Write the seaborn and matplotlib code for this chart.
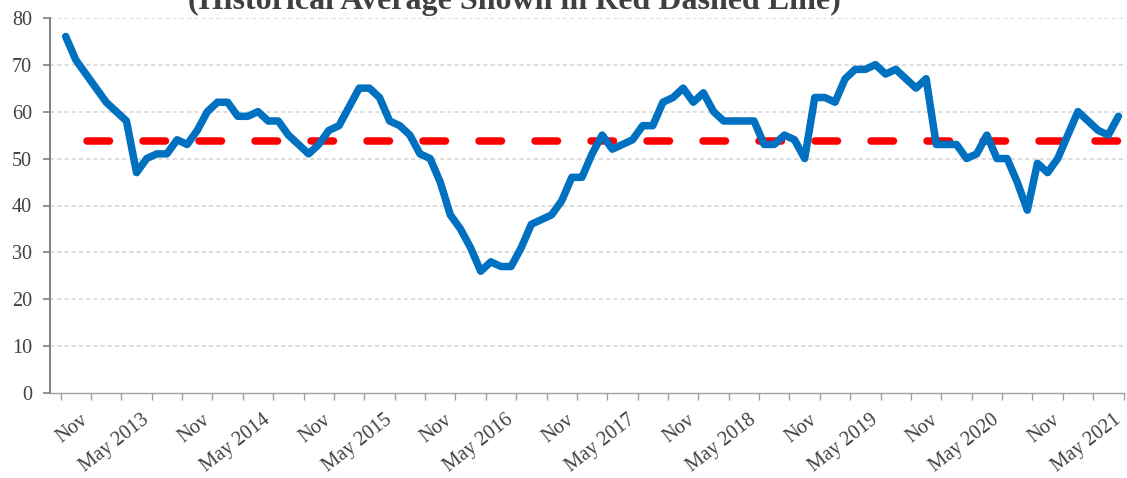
import numpy as np
import pandas as pd
import matplotlib
matplotlib.use("Agg")
import matplotlib.pyplot as plt
import matplotlib.transforms as mtransforms
import seaborn as sns

# Monthly index: Sep 2012 .. May 2021 (105 months)
month_index = list(range(105))
index_values = [
    76, 71, 68, 65, 62, 60, 58, 47, 50, 51,
    51, 54, 53, 56, 60, 62, 62, 59, 59, 60,
    58, 58, 55, 53, 51, 53, 56, 57, 61, 65,
    65, 63, 58, 57, 55, 51, 50, 45, 38, 35,
    31, 26, 28, 27, 27, 31, 36, 37, 38, 41,
    46, 46, 51, 55, 52, 53, 54, 57, 57, 62,
    63, 65, 62, 64, 60, 58, 58, 58, 58, 53,
    53, 55, 54, 50, 63, 63, 62, 67, 69, 69,
    70, 68, 69, 67, 65, 67, 53, 53, 53, 50,
    51, 55, 50, 50, 45, 39, 49, 47, 50, 55,
    60, 58, 56, 55, 59,
]
hist_avg = 53.7
avg_values = [hist_avg] * len(month_index)

x_labels = ["Nov", "May 2013", "Nov", "May 2014", "Nov", "May 2015",
            "Nov", "May 2016", "Nov", "May 2017", "Nov", "May 2018",
            "Nov", "May 2019", "Nov", "May 2020", "Nov", "May 2021"]
y_ticks = [0, 10, 20, 30, 40, 50, 60, 70, 80]
title_text = "(Historical Average Shown in Red Dashed Line)"

sns.set_theme(style="white")
plt.rcParams["font.family"] = ["Liberation Serif", "DejaVu Serif"]
plt.rcParams["lines.scale_dashes"] = False

df = pd.DataFrame({"month": month_index, "index": index_values, "avg": avg_values})

fig = plt.figure(figsize=(11.27, 4.78), dpi=100)
ax = fig.add_axes([50 / 1127, 1 - 393.3 / 478, (1123.5 - 50) / 1127, (393.3 - 17.7) / 478])

# grid
for yv in y_ticks[1:]:
    ax.axhline(yv, color="#D4D4D4", lw=1.1, ls=(0, (3, 2.2)), zorder=0)

px = 72 / 100  # points per pixel
lw_px = 7.5
sns.lineplot(data=df, x="month", y="avg", ax=ax, color="#FF0000", lw=lw_px * px,
             zorder=2, legend=False)
red = ax.lines[-1]
red.set_linestyle((35 * px, (22.5 * px, 33.5 * px)))
red.set_dash_capstyle("round")
sns.lineplot(data=df, x="month", y="index", ax=ax, color="#0070C0", lw=lw_px * px,
             zorder=3, legend=False)
blue = ax.lines[-1]
blue.set_solid_joinstyle("round")
blue.set_solid_capstyle("round")

ax.set_xlim(-1.55, 104.5)
ax.set_ylim(0, 80)
ax.set_xlabel("")
ax.set_ylabel("")

major = [2.5 + 6 * k for k in range(len(x_labels))]
minor = [-0.5 + 6 * k for k in range(18)]
ax.set_xticks(major)
ax.set_xticklabels(x_labels, rotation=38, ha="right", va="center",
                   rotation_mode="anchor", fontsize=14.5, color="#404040")
ax.set_xticks(minor, minor=True)
ax.tick_params(axis="x", which="both", direction="out", length=5, width=1,
               color="#A0A0A0", bottom=True, pad=13)
shift = mtransforms.ScaledTranslation(-5 / 100, 0, fig.dpi_scale_trans)
for lab in ax.get_xticklabels():
    lab.set_transform(lab.get_transform() + shift)
ax.set_yticks(y_ticks)
ax.set_yticklabels([str(v) for v in y_ticks], fontsize=14.5, color="#404040")
ax.tick_params(axis="y", direction="out", length=5, width=1.2, color="#808080",
               left=True, pad=8)

for s in ["top", "right"]:
    ax.spines[s].set_visible(False)
ax.spines["left"].set_color("#808080")
ax.spines["left"].set_linewidth(1.4)
ax.spines["bottom"].set_color("#A0A0A0")
ax.spines["bottom"].set_linewidth(1.0)

fig.text(514 / 1127, 1 - 9 / 478, title_text, ha="center", va="baseline",
         fontsize=23, fontweight="bold", color="#404040")

fig.savefig("out.png", dpi=100)
